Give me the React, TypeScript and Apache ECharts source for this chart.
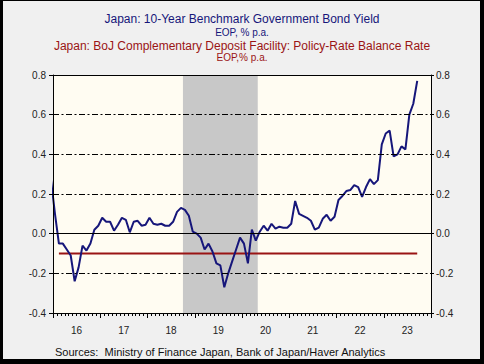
import React, { useEffect, useRef } from "react";
import * as echarts from "echarts";

// Japan 10-year JGB yield, end of period, % p.a. (monthly)
const jgbDec2015 = 0.27;
const jgb2016 = [0.10, -0.05, -0.05, -0.08, -0.11, -0.24, -0.17, -0.06, -0.085, -0.05, 0.02, 0.04];
const jgb2017 = [0.08, 0.06, 0.06, 0.015, 0.045, 0.08, 0.07, 0.007, 0.06, 0.065, 0.04, 0.045];
const jgb2018 = [0.08, 0.05, 0.045, 0.05, 0.04, 0.04, 0.06, 0.11, 0.13, 0.12, 0.09, 0.01];
const jgb2019 = [0.0, -0.02, -0.08, -0.05, -0.09, -0.15, -0.16, -0.27, -0.2, -0.14, -0.08, -0.02];
const jgb2020 = [-0.05, -0.15, 0.02, -0.035, 0.01, 0.04, 0.015, 0.05, 0.025, 0.035, 0.03, 0.03];
const jgb2021 = [0.05, 0.165, 0.1, 0.09, 0.08, 0.065, 0.02, 0.03, 0.075, 0.095, 0.065, 0.085];
const jgb2022 = [0.17, 0.19, 0.215, 0.22, 0.245, 0.235, 0.185, 0.235, 0.275, 0.25, 0.27, 0.45];
const jgb2023 = [0.505, 0.52, 0.39, 0.4, 0.44, 0.425, 0.6, 0.655, 0.77];

// BoJ policy-rate balance rate: first and last observation shown
const policyRateMonths = ["2016-02", "2023-09"];
const policyRateValues = [-0.1, -0.1];

// Recession shading (peak month, trough month)
const recessionStart = "2018-10";
const recessionEnd = "2020-05";

const yearLabels = ["16", "17", "18", "19", "20", "21", "22", "23"];
const xMin = 2016;
const xMax = 2024;
const yMin = -0.4;
const yMax = 0.8;
const yStep = 0.2;
const dashedLevels = [-0.2, 0.2, 0.4, 0.6];
const zeroLevel = 0;

const titleLine1 = "Japan: 10-Year Benchmark Government Bond Yield";
const titleLine2 = "EOP, % p.a.";
const titleLine3 = "Japan: BoJ Complementary Deposit Facility: Policy-Rate Balance Rate";
const titleLine4 = "EOP,% p.a.";
const sourceText = "Sources:  Ministry of Finance Japan, Bank of Japan/Haver Analytics";

const NAVY = "#16167a";
const RED = "#9a1414";
const FONT = "'Liberation Sans', Arial, sans-serif";

const midMonth = (year: number, monthIndex: number) => year + (monthIndex + 0.5) / 12;
const monthStr = (s: string) => {
  const [y, m] = s.split("-").map(Number);
  return { y, m: m - 1 };
};

function buildJgb(): [number, number][] {
  const out: [number, number][] = [[midMonth(2015, 11), jgbDec2015]];
  const years: [number, number[]][] = [
    [2016, jgb2016],
    [2017, jgb2017],
    [2018, jgb2018],
    [2019, jgb2019],
    [2020, jgb2020],
    [2021, jgb2021],
    [2022, jgb2022],
    [2023, jgb2023],
  ];
  years.forEach(([yr, vals]) => vals.forEach((v, i) => out.push([midMonth(yr, i), v])));
  return out;
}

function buildPolicy(): [number, number][] {
  return policyRateMonths.map((s, i) => {
    const { y, m } = monthStr(s);
    return [midMonth(y, m), policyRateValues[i]];
  });
}

const fmtY = (v: number) => (Math.abs(v) < 1e-9 ? 0 : v).toFixed(1);

export default function App() {
  const ref = useRef<HTMLDivElement>(null);

  useEffect(() => {
    if (!ref.current) return;
    const chart = echarts.init(ref.current, undefined, { renderer: "svg" });
    const rs = monthStr(recessionStart);
    const re = monthStr(recessionEnd);
    const bandStart = rs.y + rs.m / 12;
    const bandEnd = re.y + re.m / 12;

    const titleBase = { left: "center", padding: 0 };
    const option: any = {
      animation: false,
      backgroundColor: "#f0f0f0",
      textStyle: { fontFamily: FONT },
      title: [
        { ...titleBase, text: titleLine1, top: 13, textStyle: { fontFamily: FONT, fontSize: 12, fontWeight: "normal", color: NAVY, lineHeight: 12 } },
        { ...titleBase, text: titleLine2, top: 27, textStyle: { fontFamily: FONT, fontSize: 10, fontWeight: "normal", color: NAVY, lineHeight: 10 } },
        { ...titleBase, text: titleLine3, top: 40, textStyle: { fontFamily: FONT, fontSize: 12, fontWeight: "normal", color: RED, lineHeight: 12 } },
        { ...titleBase, text: titleLine4, top: 52, textStyle: { fontFamily: FONT, fontSize: 10, fontWeight: "normal", color: RED, lineHeight: 10 } },
        { left: 55, top: 346, padding: 0, text: sourceText, textStyle: { fontFamily: FONT, fontSize: 11, fontWeight: "normal", color: "#111", lineHeight: 12 } },
      ],
      grid: {
        left: 53,
        right: 53,
        top: 75,
        bottom: 51,
        show: true,
        backgroundColor: "#fffcf2",
        borderWidth: 0,
      },
      xAxis: [
        {
          type: "value",
          min: xMin,
          max: xMax,
          interval: 1,
          position: "bottom",
          z: 10,
          axisLine: { show: true, onZero: false, lineStyle: { color: "#000", width: 1 } },
          axisTick: { show: true, length: 5, lineStyle: { color: "#000" } },
          minorTick: { show: true, splitNumber: 12, length: 3, lineStyle: { color: "#000" } },
          axisLabel: { show: false },
          splitLine: { show: false },
          minorSplitLine: { show: false },
        },
        {
          type: "category",
          data: yearLabels,
          position: "bottom",
          boundaryGap: true,
          z: 10,
          axisLine: { show: false, onZero: false },
          axisTick: { show: false },
          axisLabel: { show: true, interval: 0, margin: 12, fontSize: 10, color: "#222", fontFamily: FONT },
          splitLine: { show: false },
        },
        {
          type: "value",
          min: xMin,
          max: xMax,
          interval: 1,
          position: "top",
          z: 10,
          axisLine: { show: true, onZero: false, lineStyle: { color: "#000", width: 1 } },
          axisTick: { show: false },
          axisLabel: { show: false },
          splitLine: { show: false },
        },
      ],
      yAxis: [
        {
          type: "value",
          min: yMin,
          max: yMax,
          interval: yStep,
          position: "left",
          z: 10,
          axisLine: { show: true, onZero: false, lineStyle: { color: "#000", width: 1 } },
          axisTick: { show: true, length: 4, lineStyle: { color: "#000" } },
          axisLabel: { show: true, margin: 7, fontSize: 10, color: "#222", fontFamily: FONT, formatter: fmtY },
          splitLine: { show: false },
        },
        {
          type: "value",
          min: yMin,
          max: yMax,
          interval: yStep,
          position: "right",
          z: 10,
          axisLine: { show: true, onZero: false, lineStyle: { color: "#000", width: 1 } },
          axisTick: { show: true, length: 3, lineStyle: { color: "#000" } },
          axisLabel: { show: true, margin: 5, fontSize: 10, color: "#222", fontFamily: FONT, formatter: fmtY },
          splitLine: { show: false },
        },
      ],
      series: [
        {
          type: "custom",
          name: "recession",
          xAxisIndex: 0,
          yAxisIndex: 0,
          z: 1,
          silent: true,
          data: [[bandStart, bandEnd, yMin, yMax]],
          encode: { x: [0, 1], y: [2, 3] },
          renderItem: (_p: any, api: any) => {
            const p0 = api.coord([api.value(0), api.value(3)]);
            const p1 = api.coord([api.value(1), api.value(2)]);
            return {
              type: "rect",
              shape: { x: p0[0], y: p0[1], width: p1[0] - p0[0], height: p1[1] - p0[1] },
              style: { fill: "#c8c8c8" },
            };
          },
        },
        {
          type: "line",
          name: "Policy-Rate Balance Rate",
          xAxisIndex: 0,
          yAxisIndex: 0,
          z: 3,
          data: buildPolicy(),
          showSymbol: false,
          symbol: "none",
          lineStyle: { color: RED, width: 2 },
          itemStyle: { color: RED },
          markLine: {
            silent: true,
            symbol: "none",
            label: { show: false },
            data: [
              ...dashedLevels.map((v) => ({
                yAxis: v,
                lineStyle: { color: "#000", width: 1, type: [6, 2.5, 2, 2.5] },
              })),
              { yAxis: zeroLevel, lineStyle: { color: "#000", width: 1, type: "solid" } },
            ],
          },
        },
        {
          type: "line",
          name: "10-Year JGB Yield",
          xAxisIndex: 0,
          yAxisIndex: 0,
          z: 4,
          data: buildJgb(),
          showSymbol: false,
          symbol: "none",
          lineStyle: { color: NAVY, width: 2 },
          itemStyle: { color: NAVY },
        },
      ],
    };
    chart.setOption(option);
    return () => chart.dispose();
  }, []);

  return (
    <div style={{ position: "absolute", left: 0, top: 0, width: 484, height: 364 }}>
      <div ref={ref} style={{ width: 484, height: 364 }} />
      <div
        style={{
          position: "absolute",
          left: 0,
          top: 0,
          width: 484,
          height: 364,
          boxSizing: "border-box",
          borderStyle: "solid",
          borderColor: "#000",
          borderTopWidth: 1,
          borderLeftWidth: 3,
          borderRightWidth: 4,
          borderBottomWidth: 5,
          pointerEvents: "none",
        }}
      />
    </div>
  );
}
